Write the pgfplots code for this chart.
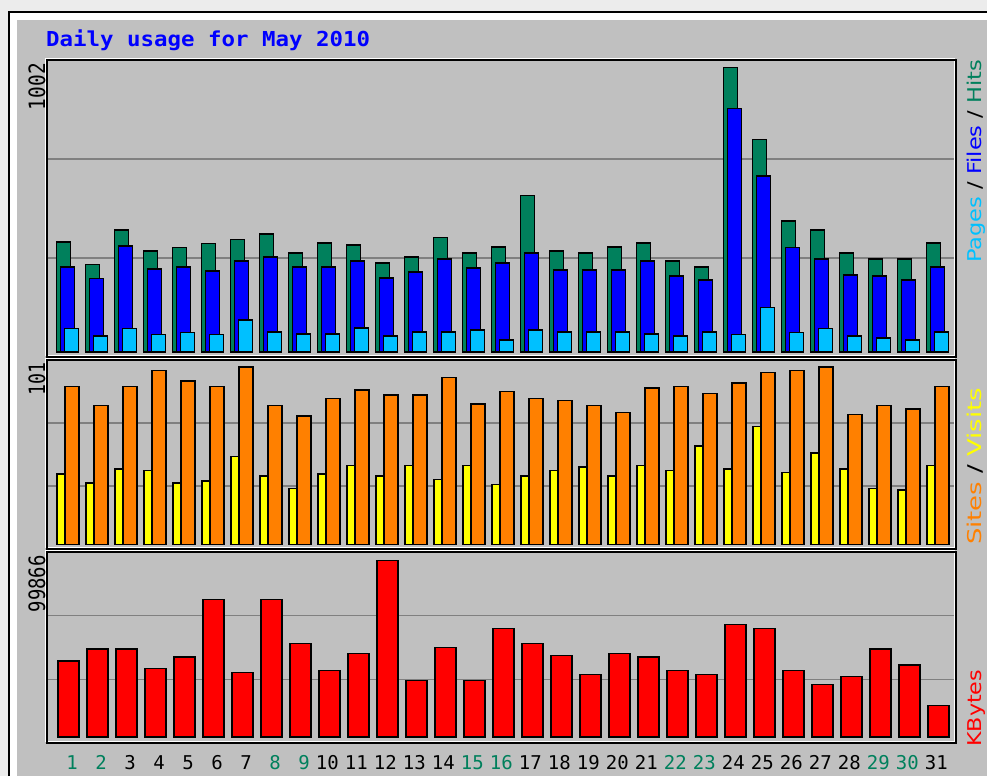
\documentclass[border=0pt]{standalone}
\usepackage{pgfplots}
\usepackage{pgfplotstable}
\pgfplotsset{compat=1.18}
\usepackage{fontspec}
\setmainfont{DejaVu Sans}
\newfontfamily\monofont{DejaVu Sans Mono}
\definecolor{bg}{HTML}{C0C0C0}
\definecolor{hitc}{HTML}{00805C}
\definecolor{filec}{HTML}{0000FF}
\definecolor{pagec}{HTML}{00C0FF}
\definecolor{sitec}{HTML}{FF8000}
\definecolor{visitc}{HTML}{FFFF00}
\definecolor{kbc}{HTML}{FF0000}
\definecolor{gridc}{HTML}{808080}
\definecolor{outerc}{HTML}{ECECEC}
\definecolor{wkc}{HTML}{00805C}

\pgfplotstableread{
day hits files pages sites visits kb
1 388 299 83 90 40 43047
2 308 259 56 79 35 49843
3 429 374 83 90 43 49843
4 355 293 62 99 42 38911
5 368 299 68 93 35 45312
6 382 286 62 90 36 77993
7 397 320 113 101 50 36646
8 415 334 70 79 39 77993
9 348 299 63 73 32 52845
10 383 299 63 83 40 37779
11 376 320 84 88 45 47408
12 313 260 56 85 39 99866
13 334 281 70 85 45 32115
14 404 327 70 95 37 50806
15 348 295 77 80 45 32115
16 369 313 42 87 34 61568
17 552 348 77 83 39 52845
18 355 288 70 82 42 46275
19 348 288 70 79 44 35513
20 369 288 70 75 39 47408
21 383 320 63 89 45 45312
22 320 267 56 90 42 37552
23 299 253 70 86 56 35513
24 1002 857 62 92 43 63833
25 748 619 157 98 67 61568
26 462 368 68 99 41 37552
27 429 327 83 101 52 29849
28 348 272 56 74 43 34380
29 327 267 49 79 32 49843
30 327 253 42 77 31 40781
31 383 299 70 90 45 17955
}\data

\pgfplotsset{
  panel/.style={
    scale only axis, width=909pt, anchor=north west,
    xmin=0.25862, xmax=31.6034,
    axis line style={draw=none},
    major tick length=0pt,
    xtick=\empty,
    yticklabels={,,},
    scaled y ticks=false,
    ymajorgrids,
    grid style={gridc, line width=1.5pt},
  },
  barst/.style={ybar, draw=black, line width=1.5pt, bar width=#1},
}

\begin{document}
\begin{tikzpicture}
\path[use as bounding box] (0,0) rectangle (987pt,776pt);
\begin{scope}[x=1pt,y=-1pt,shift={(0pt,776pt)}]
\fill[outerc] (0,0) rectangle (987,776);
\fill[white] (9,12) rectangle (987,776);
\draw[black, line width=1.5pt] (9,776) -- (9,12) -- (987,12);
\fill[bg] (17,20) rectangle (987,776);
\end{scope}

% Top panel: hits / files / pages
\begin{axis}[panel, at={(47pt,716pt)}, height=297pt,
  ymin=-17.6, ymax=1028.4, ytick={331.1,679.7}]
\addplot[barst=14pt, bar shift=-4.8pt, fill=hitc] table[x=day,y=hits]{\data};
\addplot[barst=14pt, bar shift=-0.8pt, fill=filec] table[x=day,y=files]{\data};
\addplot[barst=14pt, bar shift=3.2pt, fill=pagec] table[x=day,y=pages]{\data};
\end{axis}

% Middle panel: visits / sites
\begin{axis}[panel, at={(47pt,416pt)}, height=189pt,
  ymin=-2.56, ymax=104.98, ytick={33.3,69.1}]
\addplot[barst=14pt, bar shift=-4.5pt, fill=visitc] table[x=day,y=visits]{\data};
\addplot[barst=14pt, bar shift=3.5pt, fill=sitec] table[x=day,y=sites]{\data};
\end{axis}

% Bottom panel: kbytes
\begin{axis}[panel, at={(47pt,224pt)}, height=191pt,
  ymin=-3398, ymax=104784, ytick={32681,68704},
  xtick={1,...,31},
  xticklabels={\textcolor{wkc}{1},\textcolor{wkc}{2},3,4,5,6,7,\textcolor{wkc}{8},\textcolor{wkc}{9},10,11,12,13,14,\textcolor{wkc}{15},\textcolor{wkc}{16},17,18,19,20,21,\textcolor{wkc}{22},\textcolor{wkc}{23},24,25,26,27,28,\textcolor{wkc}{29},\textcolor{wkc}{30},31},
  xticklabel style={font=\monofont\fontsize{19}{19}\selectfont, anchor=base east, inner sep=0pt, xshift=9.5pt, yshift=-27pt}]
\addplot[barst=21pt, bar shift=0pt, fill=kbc] table[x=day,y=kb]{\data};
\end{axis}

\begin{scope}[x=1pt,y=-1pt,shift={(0pt,776pt)}]
% frames
\foreach \ya/\yb in {60/357, 360/549, 552/743}{
  \draw[white, line width=1.5pt] (45.3,\ya-1.7) rectangle (954.3,\yb-1.7);
  \draw[black, line width=2pt] (47,\ya) rectangle (956,\yb);
}
% title
\node[anchor=base west, inner sep=0pt, text=filec] at (46,46.7)
  {\resizebox{324pt}{\height}{\monofont\bfseries\fontsize{20.6}{20.6}\selectfont Daily usage for May 2010}};
% left max labels
\node[rotate=90, anchor=base east, inner sep=0pt] at (45,63)
  {\resizebox{47pt}{\height}{\monofont\fontsize{22.5}{22.5}\selectfont 1002}};
\node[rotate=90, anchor=base east, inner sep=0pt] at (45,362)
  {\resizebox{33pt}{\height}{\monofont\fontsize{22.5}{22.5}\selectfont 101}};
\node[rotate=90, anchor=base east, inner sep=0pt] at (45,555)
  {\resizebox{57pt}{\height}{\monofont\fontsize{22.5}{22.5}\selectfont 99866}};
% right legends
\node[rotate=90, anchor=base west, inner sep=0pt] at (981,263)
  {\resizebox{203pt}{\height}{\fontsize{19}{19}\selectfont\textcolor{pagec}{Pages} / \textcolor{filec}{Files} / \textcolor{hitc}{Hits}}};
\node[rotate=90, anchor=base west, inner sep=0pt] at (981,545)
  {\resizebox{157pt}{\height}{\fontsize{19}{19}\selectfont\textcolor{sitec}{Sites} / \textcolor{visitc}{Visits}}};
\node[rotate=90, anchor=base west, inner sep=0pt] at (981,747)
  {\resizebox{77pt}{\height}{\fontsize{19}{19}\selectfont\textcolor{kbc}{KBytes}}};
\end{scope}
\end{tikzpicture}
\end{document}
